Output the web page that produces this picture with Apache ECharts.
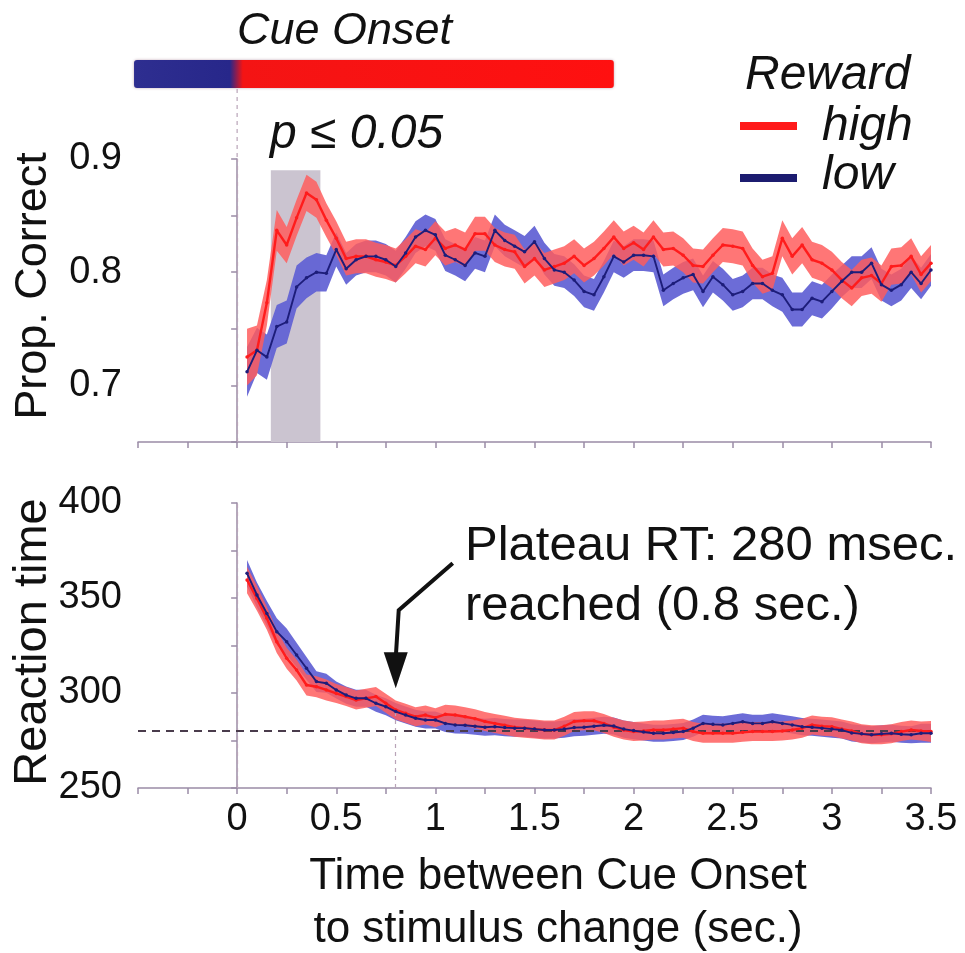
<!DOCTYPE html>
<html>
<head>
<meta charset="utf-8">
<script src="https://cdn.jsdelivr.net/npm/echarts@6/dist/echarts.min.js"></script>
<style>
  html, body { margin: 0; padding: 0; background: #fff; }
  #chart { width: 965px; height: 953px; }
</style>
</head>
<body>
<div id="chart"></div>
<script>
// Time from cue onset to stimulus change (sec.)
const timePoints = [
  0.05, 0.10, 0.15, 0.20, 0.25, 0.30, 0.35, 0.40, 0.45, 0.50,
  0.55, 0.60, 0.65, 0.70, 0.75, 0.80, 0.85, 0.90, 0.95, 1.00,
  1.05, 1.10, 1.15, 1.20, 1.25, 1.30, 1.35, 1.40, 1.45, 1.50,
  1.55, 1.60, 1.65, 1.70, 1.75, 1.80, 1.85, 1.90, 1.95, 2.00,
  2.05, 2.10, 2.15, 2.20, 2.25, 2.30, 2.35, 2.40, 2.45, 2.50,
  2.55, 2.60, 2.65, 2.70, 2.75, 2.80, 2.85, 2.90, 2.95, 3.00,
  3.05, 3.10, 3.15, 3.20, 3.25, 3.30, 3.35, 3.40, 3.45, 3.50
];

// Proportion correct, high reward
const accHigh = [
  0.725, 0.731, 0.773, 0.837, 0.824, 0.848, 0.870, 0.864, 0.846, 0.830,
  0.812, 0.814, 0.814, 0.811, 0.809, 0.806, 0.814, 0.823, 0.820, 0.830,
  0.821, 0.824, 0.820, 0.834, 0.834, 0.824, 0.820, 0.818, 0.805, 0.812,
  0.802, 0.805, 0.808, 0.814, 0.806, 0.812, 0.821, 0.831, 0.821, 0.826,
  0.820, 0.831, 0.820, 0.821, 0.815, 0.806, 0.805, 0.815, 0.824, 0.823,
  0.821, 0.806, 0.796, 0.799, 0.830, 0.814, 0.824, 0.811, 0.808, 0.802,
  0.793, 0.786, 0.795, 0.797, 0.790, 0.805, 0.806, 0.814, 0.798, 0.808
];
const accHighSem = [
  0.025, 0.022, 0.020, 0.018, 0.016, 0.016, 0.016, 0.016, 0.015, 0.015,
  0.015, 0.015, 0.015, 0.015, 0.015, 0.015, 0.015, 0.015, 0.015, 0.015,
  0.015, 0.015, 0.015, 0.015, 0.015, 0.015, 0.015, 0.015, 0.015, 0.015,
  0.015, 0.015, 0.015, 0.015, 0.015, 0.015, 0.015, 0.015, 0.015, 0.015,
  0.015, 0.015, 0.015, 0.015, 0.015, 0.015, 0.015, 0.015, 0.015, 0.015,
  0.015, 0.015, 0.015, 0.015, 0.016, 0.016, 0.016, 0.016, 0.016, 0.016,
  0.016, 0.016, 0.016, 0.016, 0.016, 0.016, 0.016, 0.016, 0.016, 0.016
];

// Proportion correct, low reward
const accLow = [
  0.712, 0.731, 0.725, 0.752, 0.756, 0.787, 0.795, 0.800, 0.799, 0.820,
  0.803, 0.811, 0.814, 0.814, 0.811, 0.805, 0.817, 0.831, 0.837, 0.833,
  0.815, 0.811, 0.806, 0.817, 0.814, 0.837, 0.828, 0.823, 0.818, 0.827,
  0.812, 0.802, 0.800, 0.793, 0.783, 0.780, 0.796, 0.814, 0.809, 0.815,
  0.815, 0.814, 0.784, 0.790, 0.795, 0.798, 0.783, 0.796, 0.789, 0.780,
  0.783, 0.790, 0.790, 0.784, 0.780, 0.767, 0.767, 0.777, 0.774, 0.783,
  0.792, 0.800, 0.800, 0.808, 0.789, 0.784, 0.789, 0.800, 0.790, 0.802
];
const accLowSem = [
  0.022, 0.020, 0.020, 0.019, 0.019, 0.019, 0.018, 0.017, 0.016, 0.015,
  0.014, 0.014, 0.014, 0.014, 0.014, 0.014, 0.014, 0.014, 0.014, 0.014,
  0.014, 0.014, 0.014, 0.014, 0.014, 0.014, 0.014, 0.014, 0.014, 0.014,
  0.014, 0.014, 0.014, 0.014, 0.014, 0.014, 0.014, 0.014, 0.014, 0.014,
  0.014, 0.014, 0.014, 0.014, 0.014, 0.014, 0.014, 0.014, 0.014, 0.014,
  0.014, 0.014, 0.014, 0.014, 0.015, 0.015, 0.015, 0.015, 0.015, 0.015,
  0.014, 0.014, 0.014, 0.014, 0.014, 0.014, 0.014, 0.014, 0.014, 0.014
];

// Reaction time (msec), high reward
const rtHigh = [
  359.5, 349.8, 339.3, 327.0, 318.3, 312.1, 304.2, 303.3, 301.6, 299.8,
  298.1, 296.3, 297.2, 298.1, 294.6, 291.1, 289.3, 287.5, 288.4, 287.0,
  288.8, 288.4, 287.5, 286.5, 285.0, 284.0, 283.0, 282.0, 281.5, 281.0,
  280.5, 280.5, 282.5, 285.0, 285.4, 285.4, 284.0, 282.0, 280.5, 279.7,
  280.0, 280.5, 280.5, 281.0, 281.5, 279.7, 278.8, 278.8, 278.8, 278.8,
  279.3, 279.7, 279.7, 279.7, 280.0, 280.5, 281.5, 283.2, 282.5, 282.3,
  281.0, 280.0, 278.5, 278.0, 278.0, 278.5, 279.7, 280.5, 280.0, 279.7
];
const rtHighSem = [
  7.0, 6.5, 6.0, 6.0, 5.5, 5.5, 5.5, 5.5, 5.5, 5.0,
  5.0, 5.0, 5.0, 5.0, 5.0, 5.0, 5.0, 5.0, 5.0, 5.0,
  5.0, 5.0, 5.0, 5.0, 5.0, 5.0, 5.0, 5.0, 5.0, 5.0,
  5.0, 5.0, 5.0, 5.0, 5.0, 5.0, 5.0, 5.0, 5.0, 5.0,
  5.0, 5.0, 5.0, 5.0, 5.0, 5.0, 5.0, 5.0, 5.0, 5.0,
  5.0, 5.0, 5.0, 5.0, 5.0, 5.0, 5.0, 5.0, 5.0, 5.0,
  5.0, 5.0, 5.0, 5.0, 5.0, 5.0, 5.0, 5.0, 5.0, 5.5
];

// Reaction time (msec), low reward
const rtLow = [
  363.0, 351.6, 341.9, 332.3, 327.0, 320.0, 313.0, 306.0, 305.1, 301.6,
  298.9, 297.2, 297.2, 294.6, 292.8, 290.2, 288.4, 286.7, 285.8, 285.8,
  284.0, 283.2, 283.0, 282.5, 282.0, 282.3, 281.8, 281.5, 281.5, 281.0,
  280.5, 280.5, 281.0, 281.8, 282.0, 282.5, 283.0, 282.6, 281.0, 280.2,
  279.5, 278.8, 278.8, 279.2, 279.7, 281.5, 284.0, 283.5, 283.2, 284.0,
  284.9, 284.0, 284.0, 284.9, 284.0, 283.2, 282.3, 282.0, 281.5, 281.0,
  280.5, 279.0, 278.5, 278.0, 278.5, 278.8, 278.3, 278.0, 278.8, 278.8
];
const rtLowSem = [
  7.0, 6.5, 6.5, 7.0, 7.0, 6.5, 6.0, 5.5, 5.0, 4.5,
  4.5, 4.5, 4.5, 4.5, 4.5, 4.5, 4.5, 4.5, 4.5, 4.5,
  4.5, 4.5, 4.5, 4.5, 4.5, 4.5, 4.5, 4.5, 4.5, 4.5,
  4.5, 4.5, 4.5, 4.5, 4.5, 4.5, 4.5, 4.5, 4.5, 4.5,
  4.5, 4.5, 4.5, 4.5, 4.5, 4.5, 4.5, 4.5, 4.5, 4.5,
  4.5, 4.5, 4.5, 4.5, 4.5, 4.5, 4.5, 4.5, 4.5, 4.5,
  4.5, 4.5, 4.5, 4.5, 4.5, 4.5, 4.5, 4.5, 5.0, 5.0
];

// Significance window (sec.) and plateau reference values
const sigWindow = [0.17, 0.42];
const sigTop = 0.89;
const plateauRT = 280;
const plateauTime = 0.8;

// Tick values for the time axis
const xMin = -0.5, xMax = 3.5, xTick = 0.25;

const FONT = '"Liberation Sans", Arial, Helvetica, sans-serif';
const AXIS_COLOR = '#9b8ca6';
const RED_LINE = '#ff1c1c';
const BLUE_LINE = '#1d1d7a';
const RED_BAND = 'rgba(255, 92, 92, 0.84)';
const BLUE_BAND = 'rgba(96, 96, 212, 0.92)';

const chart = echarts.init(document.getElementById('chart'), null, { renderer: 'canvas' });

function band(name, mid, sem, color, gi, z) {
  return {
    name, type: 'custom', xAxisIndex: gi, yAxisIndex: gi, z, silent: true,
    data: [[timePoints[0], mid[0]]],
    renderItem: function (params, api) {
      const upper = timePoints.map((t, i) => api.coord([t, mid[i] + sem[i]]));
      const lower = timePoints.map((t, i) => api.coord([t, mid[i] - sem[i]])).reverse();
      return { type: 'polygon', shape: { points: upper.concat(lower) }, style: { fill: color } };
    }
  };
}

function meanLine(name, vals, color, width, gi, z) {
  return {
    name, type: 'line', xAxisIndex: gi, yAxisIndex: gi, z, silent: true,
    data: timePoints.map((t, i) => [t, vals[i]]),
    symbol: 'circle', symbolSize: 3.5, showSymbol: true,
    itemStyle: { color },
    lineStyle: { color, width },
    animation: false
  };
}

function xAxisCfg(gi, showLabels) {
  return {
    type: 'value', gridIndex: gi, min: xMin, max: xMax, interval: xTick,
    axisLine: { show: true, lineStyle: { color: AXIS_COLOR, width: 1.5 } },
    axisTick: { show: true, length: 6, lineStyle: { color: AXIS_COLOR, width: 1.5 } },
    splitLine: { show: false },
    axisLabel: {
      show: showLabels, margin: 13, color: '#111', fontFamily: FONT, fontSize: 38,
      formatter: function (v) {
        if (v < 0) return '';
        const r = Math.round(v * 100);
        return r % 50 === 0 ? String(r / 100) : '';
      }
    }
  };
}

const option = {
  backgroundColor: '#fff',
  animation: false,
  grid: [
    { left: 138, right: 34, top: 159, height: 283 },
    { left: 138, right: 34, top: 503, height: 285 }
  ],
  xAxis: [xAxisCfg(0, false), xAxisCfg(1, true)],
  yAxis: [
    {
      type: 'value', gridIndex: 0, min: 0.65, max: 0.9, interval: 0.05,
      axisLine: { show: true, lineStyle: { color: AXIS_COLOR, width: 1.5 } },
      axisTick: { show: true, length: 6, lineStyle: { color: AXIS_COLOR, width: 1.5 } },
      splitLine: { show: false },
      axisLabel: {
        margin: 16, color: '#111', fontFamily: FONT, fontSize: 38,
        formatter: function (v) {
          const r = Math.round(v * 100);
          return r % 10 === 0 ? (r / 100).toFixed(1) : '';
        }
      }
    },
    {
      type: 'value', gridIndex: 1, min: 250, max: 400, interval: 25,
      axisLine: { show: true, lineStyle: { color: AXIS_COLOR, width: 1.5 } },
      axisTick: { show: true, length: 6, lineStyle: { color: AXIS_COLOR, width: 1.5 } },
      splitLine: { show: false },
      axisLabel: {
        margin: 16, color: '#111', fontFamily: FONT, fontSize: 38,
        formatter: function (v) { return v % 50 === 0 ? String(v) : ''; }
      }
    }
  ],
  series: [
    // significance window behind the accuracy traces
    {
      name: 'sig', type: 'line', xAxisIndex: 0, yAxisIndex: 0, z: 1, silent: true,
      data: [], symbol: 'none',
      markArea: {
        silent: true,
        itemStyle: { color: '#cbc4d0' },
        data: [[{ coord: [sigWindow[0], 0.65] }, { coord: [sigWindow[1], sigTop] }]]
      }
    },
    {
      name: 'onsetTop', type: 'line', xAxisIndex: 0, yAxisIndex: 0, z: 1, silent: true,
      data: [], symbol: 'none',
      markLine: {
        silent: true, symbol: 'none', label: { show: false },
        lineStyle: { color: '#b9a4b8', type: [4, 4], width: 1.2 },
        data: [[{ coord: [0, 0.65] }, { coord: [0, 0.9] }]]
      }
    },
    band('lowBandAcc', accLow, accLowSem, BLUE_BAND, 0, 2),
    band('highBandAcc', accHigh, accHighSem, RED_BAND, 0, 3),
    meanLine('high', accHigh, RED_LINE, 2.4, 0, 4),
    meanLine('low', accLow, BLUE_LINE, 1.9, 0, 5),

    {
      name: 'guidesRT', type: 'line', xAxisIndex: 1, yAxisIndex: 1, z: 1, silent: true,
      data: [], symbol: 'none',
      markLine: {
        silent: true, symbol: 'none', label: { show: false },
        lineStyle: { color: '#b9a4b8', type: [4, 4], width: 1.2 },
        data: [
          [{ coord: [0, 250] }, { coord: [0, 400] }],
          [{ coord: [plateauTime, 250] }, { coord: [plateauTime, 291] }]
        ]
      }
    },
    band('lowBandRT', rtLow, rtLowSem, BLUE_BAND, 1, 2),
    band('highBandRT', rtHigh, rtHighSem, RED_BAND, 1, 3),
    {
      name: 'plateau', type: 'line', xAxisIndex: 1, yAxisIndex: 1, z: 4, silent: true,
      data: [], symbol: 'none',
      markLine: {
        silent: true, symbol: 'none', label: { show: false },
        lineStyle: { color: '#4a3c4c', type: [8, 6], width: 2 },
        data: [[{ coord: [xMin, plateauRT] }, { coord: [xMax, plateauRT] }]]
      }
    },
    meanLine('highRT', rtHigh, RED_LINE, 2.4, 1, 5),
    meanLine('lowRT', rtLow, BLUE_LINE, 1.9, 1, 6)
  ]
};

chart.setOption(option);

// Annotations placed relative to the axes
const px = (gi, pt) => chart.convertToPixel({ gridIndex: gi }, pt);
const topAxisTop = px(0, [0, 0.9]);
const barL = px(0, [-0.52, 0.9])[0];
const barR = px(0, [1.9, 0.9])[0];
const zeroX = topAxisTop[0];
const split = (zeroX - barL) / (barR - barL);

const tip = px(1, [plateauTime, 302.5]);
const elbow = [tip[0] + 3, tip[1] - 78];
const tail = [elbow[0] + 54, elbow[1] - 47];

const italic = (text, x, y, size) => ({
  type: 'text', x, y, silent: true,
  style: { text, fill: '#111', fontFamily: FONT, fontStyle: 'italic', fontSize: size, textVerticalAlign: 'middle' }
});
const plain = (text, x, y, size, align, rot) => ({
  type: 'text', x, y, silent: true, rotation: rot || 0,
  style: { text, fill: '#111', fontFamily: FONT, fontSize: size, textAlign: align || 'left', textVerticalAlign: 'middle' }
});

chart.setOption({
  graphic: [
    // cue bar: low-reward period before onset, high-reward after
    {
      type: 'rect', silent: true,
      shape: { x: barL, y: 60, width: barR - barL, height: 28, r: 3 },
      style: {
        fill: new echarts.graphic.LinearGradient(0, 0, 1, 0, [
          { offset: 0, color: '#2e2e90' },
          { offset: Math.max(0, split - 0.015), color: '#27278a' },
          { offset: Math.min(1, split + 0.012), color: '#f41414' },
          { offset: 1, color: '#ff1010' }
        ]),
        shadowBlur: 3, shadowColor: 'rgba(120,60,90,0.45)'
      }
    },
    {
      type: 'line', silent: true,
      shape: { x1: zeroX, y1: 89, x2: zeroX, y2: topAxisTop[1] },
      style: { stroke: '#b9a4b8', lineWidth: 1.2, lineDash: [4, 4] }
    },
    italic('Cue Onset', 237, 31, 45),
    italic('p ≤ 0.05', 270, 135, 48),
    italic('Reward', 745, 76, 48),
    { type: 'line', silent: true, shape: { x1: 740, y1: 126, x2: 797, y2: 126 }, style: { stroke: '#ff1a1a', lineWidth: 8 } },
    italic('high', 822, 127, 48),
    { type: 'line', silent: true, shape: { x1: 740, y1: 178, x2: 797, y2: 178 }, style: { stroke: '#1c1c70', lineWidth: 8 } },
    italic('low', 822, 176, 48),

    // axis titles
    plain('Prop. Correct', 34, 286, 45, 'center', Math.PI / 2),
    plain('Reaction time', 33, 642, 47, 'center', Math.PI / 2),

    plain('Plateau RT: 280 msec.', 465, 546, 49),
    plain('reached (0.8 sec.)', 465, 606, 49),
    {
      type: 'polyline', silent: true,
      shape: { points: [tail, elbow, [tip[0], tip[1] - 30]] },
      style: { stroke: '#111', lineWidth: 4, fill: null }
    },
    {
      type: 'polygon', silent: true,
      shape: { points: [[tip[0] - 12, tip[1] - 36], [tip[0] + 12, tip[1] - 36], [tip[0], tip[1]]] },
      style: { fill: '#111' }
    },

    plain('Time between Cue Onset', 558, 877, 44, 'center'),
    plain('to stimulus change (sec.)', 558, 930, 44, 'center')
  ]
});
</script>
</body>
</html>
